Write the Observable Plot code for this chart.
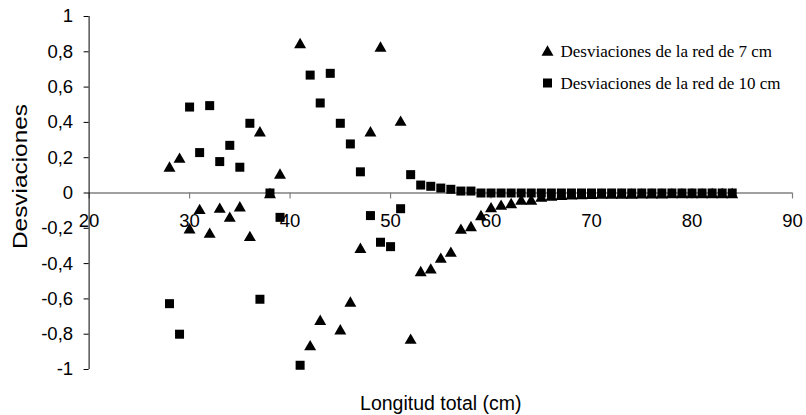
<!DOCTYPE html>
<html>
<head>
<meta charset="utf-8">
<script src="https://cdn.jsdelivr.net/npm/d3@7"></script>
<script src="https://cdn.jsdelivr.net/npm/@observablehq/plot@0.6"></script>
<style>
  html, body { margin: 0; padding: 0; background: #fff; overflow: hidden; }
</style>
</head>
<body>
<div id="chart"></div>
<script>
// Longitud total (cm) and deviations, net of 7 cm (triangles)
const lengths7 = [28,29,30,31,32,33,34,35,36,37,38,39,41,42,43,45,46,47,48,49,51,52,53,54,55,56,57,58,59,60,61,62,63,64,65,66,67,68,69,70,71,72,73,74,75,76,77,78,79,80,81,82,83,84];
const dev7 = [0.15,0.20,-0.20,-0.09,-0.225,-0.083,-0.134,-0.075,-0.243,0.35,0.0,0.11,
  0.85,-0.862,-0.718,
  -0.772,-0.615,-0.31,0.35,0.83,
  0.41,-0.825,-0.442,-0.427,-0.366,-0.332,-0.202,-0.187,-0.125,-0.08,-0.066,-0.057,-0.037,-0.037,
  -0.02,-0.015,-0.01,-0.008,-0.006,-0.005,-0.004,-0.004,-0.003,-0.003,-0.002,-0.002,-0.002,-0.001,-0.001,-0.001,-0.001,0,0,0];

// Longitud total (cm) and deviations, net of 10 cm (squares)
const lengths10 = [28,29,30,31,32,33,34,35,36,37,38,39,41,42,43,44,45,46,47,48,49,50,51,52,53,54,55,56,57,58,59,60,61,62,63,64,65,66,67,68,69,70,71,72,73,74,75,76,77,78,79,80,81,82,83,84];
const dev10 = [-0.627,-0.80,0.487,0.229,0.495,0.178,0.27,0.146,0.395,-0.602,0.0,-0.138,
  -0.976,0.668,0.51,0.678,0.395,0.278,0.12,-0.128,-0.279,-0.304,-0.089,0.104,0.045,0.038,0.028,0.021,0.011,0.011,
  0,0,0,0,0,0,0,0,0,0,0,0,0,0,0,0,0,0,0,0,0,0,0,0,0,0];

const seriesNames = ["Desviaciones de la red de 7 cm", "Desviaciones de la red de 10 cm"];
const xTicks = [20,30,40,50,60,70,80,90];
const yTicks = [-1,-0.8,-0.6,-0.4,-0.2,0,0.2,0.4,0.6,0.8,1];
const yTickLabels = ["-1","-0,8","-0,6","-0,4","-0,2","0","0,2","0,4","0,6","0,8","1"];
const xTitle = "Longitud total (cm)";
const yTitle = "Desviaciones";

const data7 = lengths7.map((x, i) => ({x, y: dev7[i]}));
const data10 = lengths10.map((x, i) => ({x, y: dev10[i]}));

const sans = "'Liberation Sans', Arial, sans-serif";
const serif = "'Liberation Serif', 'Times New Roman', serif";
const TRI_R = 4.45, SQ_R = 5.08;

const chart = Plot.plot({
  width: 806,
  height: 415,
  marginLeft: 88.6,
  marginRight: 14,
  marginTop: 16,
  marginBottom: 46,
  style: {fontFamily: sans, background: "white", color: "black"},
  x: {domain: [20, 90], axis: null},
  y: {domain: [-1, 1]},
  marks: [
    Plot.ruleY([0], {stroke: "#808080", strokeWidth: 1.3}),
    Plot.ruleX(xTicks, {x: d => d, y1: 0, y2: 0, insetBottom: -6, stroke: "#808080", strokeWidth: 1.2}),
    Plot.text(xTicks, {x: d => d, y: 0, dy: 28, text: d => String(d), fontSize: 18.5, fill: "black"}),
    Plot.ruleX([20], {stroke: "black"}),
    Plot.axisY(yTicks, {tickSize: 5, tickPadding: 11, tickFormat: d => yTickLabels[yTicks.indexOf(d)], fontSize: 18.5, label: null}),
    Plot.dot(data7, {x: "x", y: "y", symbol: "triangle", r: TRI_R, fill: "black", stroke: "none", dy: 1.7}),
    Plot.dot(data10, {x: "x", y: "y", symbol: "square", r: SQ_R, fill: "black", stroke: "none"}),
    // legend
    Plot.dot([seriesNames[0]], {frameAnchor: "top-left", dx: 458.4, dy: 35.7, symbol: "triangle", r: TRI_R, fill: "black", stroke: "none"}),
    Plot.text([seriesNames[0]], {frameAnchor: "top-left", dx: 471.4, dy: 35.3, lineAnchor: "middle", text: d => d, textAnchor: "start", fontFamily: serif, fontSize: 17, fill: "black"}),
    Plot.dot([seriesNames[1]], {frameAnchor: "top-left", dx: 458.4, dy: 66.5, symbol: "square", r: SQ_R, fill: "black", stroke: "none"}),
    Plot.text([seriesNames[1]], {frameAnchor: "top-left", dx: 471.4, dy: 66.6, lineAnchor: "middle", text: d => d, textAnchor: "start", fontFamily: serif, fontSize: 17, fill: "black"}),
    // axis titles
    Plot.text([xTitle], {frameAnchor: "bottom", dy: 34, lineAnchor: "middle", textAnchor: "middle", text: d => d, fontSize: 19.5, fill: "black"}),
    Plot.text([yTitle], {frameAnchor: "left", dx: -68.6, dy: -16.5, rotate: -90, lineAnchor: "middle", textAnchor: "middle", text: d => d, fontSize: 19.5, fill: "black", className: "ytitle"})
  ]
});
document.getElementById("chart").appendChild(chart);
// stretch the vertical title to the reference length
chart.querySelectorAll("text").forEach(t => {
  if (t.textContent === yTitle) {
    t.setAttribute("textLength", 145);
    t.setAttribute("lengthAdjust", "spacingAndGlyphs");
  }
});
</script>
</body>
</html>
